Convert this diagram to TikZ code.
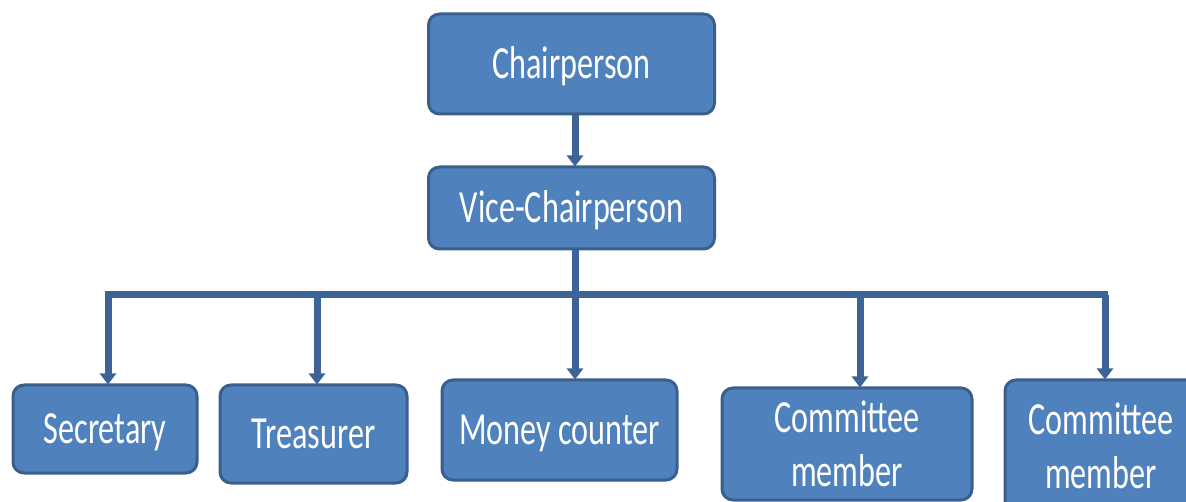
\documentclass[tikz,border=0pt]{standalone}
\usepackage{fontspec}
\setmainfont{Carlito}[FakeStretch=0.7]
\usetikzlibrary{arrows.meta}
\definecolor{boxfill}{HTML}{4F81BD}
\definecolor{boxedge}{HTML}{3A5F8C}
\definecolor{linecol}{HTML}{3E6497}
\tikzset{
  orgbox/.style={draw=boxedge, fill=boxfill, line width=3pt, rounded corners=11pt, text=white,
    align=center, font=\fontsize{46}{54}\selectfont, inner sep=0pt},
  onebox/.style={orgbox, text height=37pt, text depth=8pt},
  conn/.style={draw=linecol, line width=7pt},
  arr/.style={draw=linecol, line width=7pt, -{Triangle[length=11pt,width=16pt]}, shorten >=-1pt},
}
\begin{document}
\begin{tikzpicture}[x=1pt,y=-1pt]
\useasboundingbox (0,0) rectangle (1186,502);
\clip (0,0) rectangle (1186,502);
\node[onebox, minimum width=286, minimum height=100] (chair) at (571.5,64) {Chairperson};
\node[onebox, minimum width=286, minimum height=82] (vice) at (571.5,208) {Vice-Chairperson};
\node[onebox, minimum width=184, minimum height=88] (sec) at (105,429) {Secretary};
\node[onebox, minimum width=187, minimum height=98] (tre) at (313.5,434) {Treasurer};
\node[onebox, minimum width=235, minimum height=100] (money) at (559.5,430) {Money counter};
\node[orgbox, minimum width=250, minimum height=112] (cm1) at (847,444) {Committee\\member};
\node[orgbox, minimum width=192, minimum height=132] (cm2) at (1101,446) {Committee\\member};
\coordinate (bL) at (105,295);
\coordinate (bR) at (1108,295);
\coordinate (b1) at (108,295);
\coordinate (b2) at (317,295);
\coordinate (b3) at (575,295);
\coordinate (b4) at (860,295);
\coordinate (b5) at (1105,295);
\draw[arr] (chair.south -| b3) -- (vice.north -| b3);
\draw[conn] (vice.south -| b3) -- (b3);
\draw[conn] (bL) -- (bR);
\draw[arr] (b1) -- (b1 |- sec.north);
\draw[arr] (b2) -- (b2 |- tre.north);
\draw[arr] (b3) -- (b3 |- money.north);
\draw[arr] (b4) -- (b4 |- cm1.north);
\draw[arr] (b5) -- (b5 |- cm2.north);
\end{tikzpicture}
\end{document}
